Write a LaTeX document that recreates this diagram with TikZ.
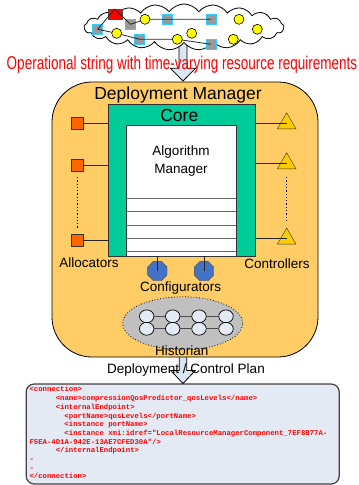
\documentclass[tikz,border=0pt]{standalone}
\usepackage{fontspec}
\setmainfont{Liberation Sans}
\setmonofont{Liberation Mono}
\usepackage{tikz}
\usetikzlibrary{positioning, shapes.geometric, shapes.symbols, calc}
\definecolor{dmorange}{HTML}{FFCC66}
\definecolor{coregreen}{HTML}{00CC99}
\definecolor{allocorange}{HTML}{FF6600}
\definecolor{ctrlyellow}{HTML}{FFCC00}
\definecolor{cfgblue}{HTML}{4472C4}
\definecolor{histgray}{HTML}{C0C0C0}
\definecolor{paleblue}{HTML}{E4EAF4}
\definecolor{arrowblue}{HTML}{DCE6F2}
\definecolor{nodegray}{HTML}{999999}
\definecolor{nodecyan}{HTML}{33CCFF}
\definecolor{ballyellow}{HTML}{FFFF00}

\begin{document}
\begin{tikzpicture}[x=1pt, y=-1pt,
    lbl/.style={font=\fontsize{13.5}{16}\selectfont, inner sep=0pt},
    biglbl/.style={font=\fontsize{17.5}{20}\selectfont, inner sep=0pt},
    compbox/.style={fill=nodegray, draw=nodecyan, line width=0.9pt, minimum size=10pt, inner sep=0pt},
    ball/.style={circle, fill=ballyellow, draw=black, line width=0.6pt, minimum size=10pt, inner sep=0pt},
    alloc/.style={fill=allocorange, draw=black!80, minimum size=11.5pt, inner sep=0pt},
    ctrl/.style={regular polygon, regular polygon sides=3, fill=ctrlyellow, draw=black!80, minimum size=21.5pt, inner sep=0pt},
    cfg/.style={regular polygon, regular polygon sides=8, fill=cfgblue, draw=black!70, minimum size=21pt, inner sep=0pt},
    hnode/.style={ellipse, fill=paleblue, draw=black, line width=0.7pt, minimum width=14.5pt, minimum height=12.8pt, inner sep=0pt},
    blockarrow/.style={fill=arrowblue, draw=black, line width=0.8pt, line join=miter},
    wire/.style={draw=black!85, line width=0.8pt}
]
\useasboundingbox (0,0) rectangle (359,485);

% Deployment / control plan box
\node[draw=black!75, fill=paleblue, rounded corners=8pt, line width=1.2pt,
      minimum width=313pt, minimum height=100pt, inner sep=0pt] (plan) at (182.7,434) {};
\node[anchor=north west, align=left, inner sep=0pt, text=red,
      font=\fontsize{7.3}{8.7}\selectfont\ttfamily\bfseries] (xml) at (29.3,386.5)
  {<connection>\\
   \hspace*{26.3pt}<name>compressionQosPredictor\_qosLevels</name>\\
   \hspace*{26.3pt}<internalEndpoint>\\
   \hspace*{35pt}<portName>qosLevels</portName>\\
   \hspace*{35pt}<instance portName>\\
   \hspace*{35pt}<instance xmi:idref="LocalResourceManagerComponent\_7EF8B77A-\\
   F5EA-4D1A-942E-13AE7CFED30A"/>\\
   \hspace*{26.3pt}</internalEndpoint>\\
   -\\
   -\\
   </connection>};
\draw[blockarrow] (179.3,345) -- (179.3,370.5) -- (170.7,370.5) -- (183,383.5)
  -- (195.3,370.5) -- (186.7,370.5) -- (186.7,345) -- cycle;

% Deployment manager
\node[draw=black, fill=dmorange, rounded corners=40pt, line width=0.8pt,
      minimum width=266pt, minimum height=275pt, inner sep=0pt] (dm) at (185,219.5) {};
\draw[blockarrow] (179,40) -- (179,68.3) -- (170.5,68.3) -- (183,81)
  -- (195.5,68.3) -- (187,68.3) -- (187,40) -- cycle;

% Operational string
\node[cloud, draw=black, fill=white, line width=0.8pt, cloud puffs=21, cloud puff arc=110,
      cloud ignores aspect, minimum width=200pt, minimum height=46pt] (opstring) at (184,27) {};
\node[fill=red, draw=black!70, minimum width=14pt, minimum height=10pt, inner sep=0pt] (ops) at (114.7,14.3) {};
\node[compbox] (g1) at (97.7,29.3) {};
\node[compbox] (g2) at (130.5,24.3) {};
\node[compbox] (g3) at (167.7,19.3) {};
\node[compbox] (g4) at (211,19.3) {};
\node[compbox] (g5) at (139.7,39.3) {};
\node[compbox] (g6) at (211,44.3) {};
\draw[wire] (g1.center) -- (ops.north) -- (g2.center);
\draw[wire] (g2.center) -- (145,19.3) -- (g3.center) -- (g4.center);
\draw[wire] (g1.center) -- (116.7,33.3) -- (g5.center) -- (177.3,39.3) -- (g6.center);
\node[ball] (y1) at (145,19.3) {};
\node[ball] (y2) at (116.7,33.3) {};
\node[ball] (y3) at (177.3,39.3) {};
\node[ball] (y4) at (191.7,33.3) {};
\node[ball] (y5) at (239,19.3) {};
\node[ball] (y6) at (257.3,29.3) {};
\node[ball] (y7) at (233.3,39.3) {};
\node[anchor=base, inner sep=0pt, text=red, font=\fontsize{18.5}{20}\selectfont] (optext) at (182,69.3)
  {\scalebox{0.73}[1]{Operational string with time-varying resource requirements}};

\node[biglbl, anchor=base] (dmlbl) at (178,99.5) {Deployment Manager};

% Core and algorithm manager
\node[draw=black!80, fill=coregreen, minimum width=147pt, minimum height=152pt, inner sep=0pt] (core) at (181.5,180) {};
\node[biglbl, anchor=base] (corelbl) at (179.3,121.7) {Core};
\node[draw=black!80, fill=white, minimum width=110pt, minimum height=131pt, inner sep=0pt] (algo) at (181,190.5) {};
\node[lbl, align=center] (algolbl) at (181,161) {Algorithm\\[1.5pt]Manager};
\foreach \y in {198,211.5,225,238.5,251.5}
  \draw[black!60, line width=0.8pt] (algo.west |- 0,\y) -- (algo.east |- 0,\y);

% Allocators
\node[alloc] (a1) at (77.3,123.3) {};
\node[alloc] (a2) at (77.3,165) {};
\node[alloc] (a3) at (77.3,240) {};
\foreach \a in {a1,a2,a3}
  \draw[wire] (\a.east) -- (\a -| core.west);
\draw[dotted, line width=1.3pt] ($(a2.south)+(0,6)$) -- ($(a3.north)+(0,-6)$);
\node[lbl, anchor=base] (alloclbl) at (89,267) {Allocators};

% Controllers
\node[ctrl] (c1) at (286.7,123.5) {};
\node[ctrl] (c2) at (286.7,163.5) {};
\node[ctrl] (c3) at (286.7,238.8) {};
\foreach \c in {c1,c2,c3}
  \draw[wire] (\c -| core.east) -- (\c.center);
\draw[dotted, line width=1.3pt] ($(c2.south)+(0,8)$) -- ($(c3.north)+(0,-6)$);
\node[lbl, anchor=base] (ctrllbl) at (277,268.5) {Controllers};

% Configurators
\node[cfg] (f1) at (157.3,271) {};
\node[cfg] (f2) at (204,271) {};
\foreach \f in {f1,f2}
  \draw[wire] (\f |- algo.south) -- (\f.center);
\node[lbl, anchor=base] (cfglbl) at (180.7,291.5) {Configurators};

% Historian
\node[ellipse, fill=histgray, draw=black, dotted, line width=0.8pt,
      minimum width=120pt, minimum height=53pt, inner sep=0pt] (hist) at (182.7,323.3) {};
\foreach \i/\x in {1/146.7,2/172.7,3/199,4/226} {
  \node[hnode] (ht\i) at (\x,316.3) {};
  \node[hnode] (hb\i) at (\x,328.8) {};
}
\foreach \i/\j in {1/2,2/3,3/4} {
  \draw[black!70, line width=0.8pt] (ht\i) -- (ht\j);
  \draw[black!70, line width=0.8pt] (hb\i) -- (hb\j);
}
\node[lbl, anchor=base] (histlbl) at (181.7,355) {Historian};

\node[lbl, anchor=base] (planlbl) at (186,373.5) {Deployment / Control Plan};
\end{tikzpicture}
\end{document}
